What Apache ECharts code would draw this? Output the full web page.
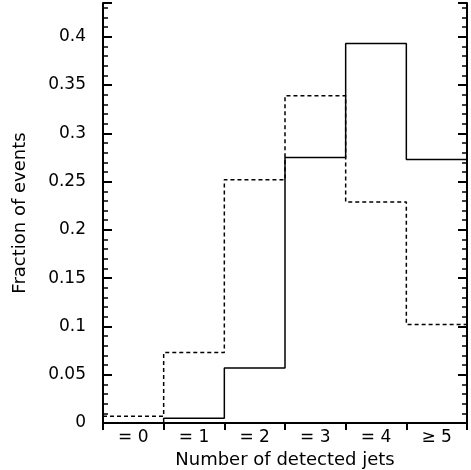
<!DOCTYPE html>
<html>
<head>
<meta charset="utf-8">
<script src="https://cdn.jsdelivr.net/npm/echarts@6/dist/echarts.min.js"></script>
<style>
  html, body { margin: 0; padding: 0; background: #fff; }
  #chart { width: 471px; height: 470px; }
</style>
</head>
<body>
<div id="chart"></div>
<script>
// Jet multiplicity bins and the two normalised distributions
const jetBins = ['= 0', '= 1', '= 2', '= 3', '= 4', '\u2265 5'];
const solidFractions = [0.0, 0.005, 0.057, 0.275, 0.393, 0.273];
const dashedFractions = [0.007, 0.073, 0.252, 0.339, 0.229, 0.102];
const yTicks = [0, 0.05, 0.1, 0.15, 0.2, 0.25, 0.3, 0.35, 0.4];

// Turn per-bin values into a stepped outline on a 0..N bin-edge scale
function histOutline(values) {
  const pts = [];
  values.forEach((v, i) => {
    pts.push([i, v]);
    pts.push([i + 1, v]);
  });
  return pts;
}

const font = 'DejaVu Sans';
const chart = echarts.init(document.getElementById('chart'));

chart.setOption({
  animation: false,
  grid: { left: 103, right: 4, top: 3, bottom: 47, containLabel: false, outerBoundsMode: 'none' },
  xAxis: [
    {
      type: 'category',
      data: jetBins,
      boundaryGap: true,
      position: 'bottom',
      name: 'Number of detected jets',
      nameLocation: 'middle',
      nameGap: 26,
      nameTextStyle: { fontFamily: font, fontSize: 18, color: '#000' },
      axisLine: { lineStyle: { color: '#000', width: 2 } },
      axisTick: { inside: true, length: 8, lineStyle: { color: '#000', width: 2 } },
      axisLabel: { fontFamily: font, fontSize: 17, color: '#000', margin: 6 },
      splitLine: { show: false }
    },
    {
      type: 'value',
      min: 0,
      max: jetBins.length,
      interval: 1,
      position: 'top',
      axisLine: { show: true, lineStyle: { color: '#000', width: 1.5 } },
      axisTick: { inside: true, length: 7, lineStyle: { color: '#000', width: 2 } },
      axisLabel: { show: false },
      splitLine: { show: false }
    }
  ],
  yAxis: [
    {
      type: 'value',
      min: 0,
      max: 0.435,
      interval: 0.05,
      name: 'Fraction of events',
      nameLocation: 'middle',
      nameGap: 74,
      nameTextStyle: { fontFamily: font, fontSize: 18, color: '#000' },
      axisLine: { show: true, lineStyle: { color: '#000', width: 2 } },
      axisTick: { inside: true, length: 9, lineStyle: { color: '#000', width: 2 } },
      minorTick: { show: true, splitNumber: 5, length: 5, lineStyle: { color: '#000', width: 1.5 } },
      axisLabel: {
        fontFamily: font, fontSize: 17, color: '#000', margin: 17,
        formatter: v => {
          const t = yTicks.find(y => Math.abs(y - v) < 1e-9);
          return t === undefined ? '' : String(t);
        }
      },
      splitLine: { show: false }
    },
    {
      type: 'value',
      min: 0,
      max: 0.435,
      interval: 0.05,
      position: 'right',
      axisLine: { show: true, lineStyle: { color: '#000', width: 2 } },
      axisTick: { inside: true, length: 9, lineStyle: { color: '#000', width: 2 } },
      minorTick: { show: true, splitNumber: 5, length: 5, lineStyle: { color: '#000', width: 1.5 } },
      axisLabel: { show: false },
      splitLine: { show: false }
    }
  ],
  series: [
    {
      type: 'line',
      xAxisIndex: 1,
      yAxisIndex: 0,
      data: histOutline(dashedFractions),
      symbol: 'none',
      lineStyle: { color: '#000', width: 1.5, type: [4, 3] },
      z: 3
    },
    {
      type: 'line',
      xAxisIndex: 1,
      yAxisIndex: 0,
      data: histOutline(solidFractions),
      symbol: 'none',
      lineStyle: { color: '#000', width: 1.5, type: 'solid' },
      z: 4
    }
  ]
});
</script>
</body>
</html>
